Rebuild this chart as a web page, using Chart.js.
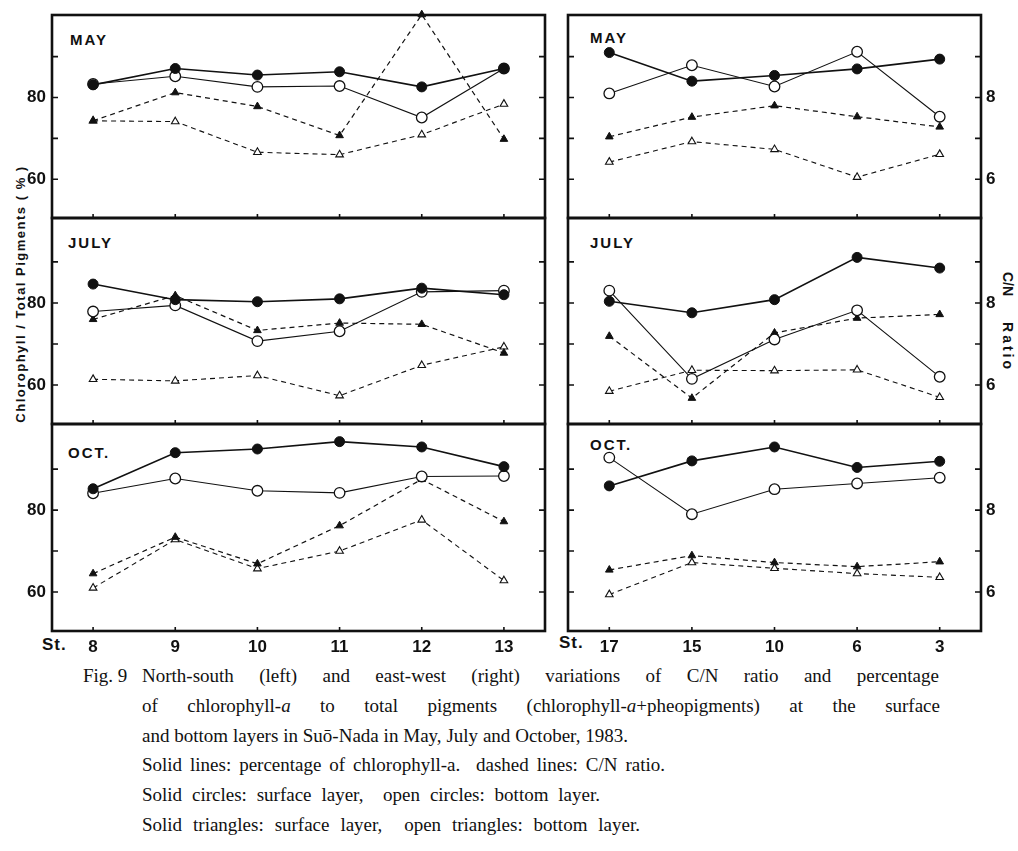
<!DOCTYPE html>
<html>
<head>
<meta charset="utf-8">
<script src="https://cdn.jsdelivr.net/npm/chart.js@4.4.1/dist/chart.umd.min.js"></script>
<style>
  html, body { margin: 0; padding: 0; background: #fff; }
  #page { position: relative; width: 1018px; height: 851px; overflow: hidden; }
  #page canvas { position: absolute; }
  .lbl {
    position: absolute;
    font-family: 'Liberation Sans', Arial, sans-serif;
    font-weight: bold;
    color: #111;
    white-space: nowrap;
    transform: translateY(-50%);
  }
  .month { font-size: 15px; letter-spacing: 2px; }
  .st { font-family: 'Liberation Sans Narrow', 'Liberation Sans', sans-serif; font-size: 17px; letter-spacing: 1px; }
  .ytitle { font-size: 13px; letter-spacing: 1.5px; transform: translate(-50%, -50%) rotate(-90deg); }
  .cntitle { font-size: 14px; transform: translate(-50%, -50%) rotate(90deg); }
  .cntitle span.r { letter-spacing: 3px; margin-left: 26px; }
  #caption {
    position: absolute; left: 83px; top: 661px; width: 870px;
    font-family: 'Liberation Serif', 'Times New Roman', serif;
    font-size: 19px; line-height: 29.8px; color: #111;
  }
  #caption .figno { position: absolute; left: 0; top: 0; white-space: nowrap; }
  #caption .body { position: absolute; left: 59px; top: 0; width: 797px; }
  #caption .body div { white-space: nowrap; text-align: justify; text-align-last: justify; }
</style>
</head>
<body>
<div id="page">
  <div class="lbl month" style="left:70px;top:39px">MAY</div>
  <div class="lbl month" style="left:68px;top:242px">JULY</div>
  <div class="lbl month" style="left:68px;top:452px">OCT.</div>
  <div class="lbl month" style="left:590px;top:37px">MAY</div>
  <div class="lbl month" style="left:590px;top:242px">JULY</div>
  <div class="lbl month" style="left:590px;top:444px">OCT.</div>

  <div class="lbl st" style="left:42px;top:645px">St.</div>
  <div class="lbl st" style="left:559px;top:643px">St.</div>

  <div class="lbl ytitle" style="left:20px;top:294px">Chlorophyll / Total Pigments ( % )</div>
  <div class="lbl cntitle" style="left:1008px;top:322px"><span>C/N</span><span class="r">Ratio</span></div>

  <div id="caption">
    <div class="figno">Fig. 9</div>
    <div class="body">
      <div style="width:797px">North-south (left) and east-west (right) variations of C/N ratio and percentage</div>
      <div style="width:798px">of chlorophyll-<i>a</i> to total pigments (chlorophyll-<i>a</i>+pheopigments) at the surface</div>
      <div style="width:486px">and bottom layers in Suō-Nada in May, July and October, 1983.</div>
      <div style="width:523px">Solid lines: percentage of chlorophyll-a.&nbsp; dashed lines: C/N ratio.</div>
      <div style="width:458px">Solid circles: surface layer,&nbsp; open circles: bottom layer.</div>
      <div style="width:498px">Solid triangles: surface layer,&nbsp; open triangles: bottom layer.</div>
    </div>
  </div>
</div>

<script>
// Stations along each transect
const stationsNS = ['8', '9', '10', '11', '12', '13'];
const stationsEW = ['17', '15', '10', '6', '3'];

// Tick values (percentage axis on the left, C/N axis on the right)
const pctTicks = [60, 70, 80, 90];
const pctTickLabels = [60, 80];
const cnTicks = [6, 7, 8, 9];
const cnTickLabels = [6, 8];

// North-south transect, one row per month: May, July, October
// % chlorophyll-a of total pigments
const nsChlSurface = [
  [83.1, 87.1, 85.5, 86.3, 82.6, 87.1],
  [84.6, 80.8, 80.3, 81.0, 83.6, 82.0],
  [85.2, 94.0, 94.9, 96.7, 95.4, 90.6],
];
const nsChlBottom = [
  [83.3, 85.2, 82.6, 82.8, 75.1, 87.1],
  [77.9, 79.4, 70.7, 73.1, 82.7, 83.0],
  [84.1, 87.7, 84.7, 84.2, 88.2, 88.3],
];
// C/N ratio
const nsCnSurface = [
  [7.43, 8.12, 7.78, 7.07, 10.03, 6.98],
  [7.60, 8.18, 7.33, 7.51, 7.48, 6.78],
  [6.45, 7.34, 6.69, 7.62, 8.75, 7.72],
];
const nsCnBottom = [
  [7.43, 7.41, 6.66, 6.60, 7.09, 7.84],
  [6.14, 6.10, 6.23, 5.74, 6.48, 6.93],
  [6.10, 7.28, 6.57, 7.00, 7.76, 6.28],
];

// East-west transect, May, July, October
const ewChlSurface = [
  [91.0, 84.0, 85.4, 87.0, 89.4],
  [80.4, 77.6, 80.8, 91.1, 88.5],
  [85.9, 92.0, 95.4, 90.4, 91.9],
];
const ewChlBottom = [
  [81.0, 87.9, 82.7, 91.2, 75.3],
  [83.0, 61.5, 71.1, 78.2, 62.0],
  [92.8, 79.0, 85.1, 86.5, 87.9],
];
const ewCnSurface = [
  [7.04, 7.52, 7.80, 7.53, 7.28],
  [7.19, 5.68, 7.27, 7.63, 7.72],
  [6.54, 6.89, 6.72, 6.62, 6.74],
];
const ewCnBottom = [
  [6.42, 6.92, 6.73, 6.05, 6.61],
  [5.85, 6.36, 6.35, 6.37, 5.70],
  [5.94, 6.72, 6.58, 6.45, 6.36],
];

const INK = '#111';
const PAPER = '#fff';
const TICK_FONT = { family: "'Liberation Sans Narrow', 'Liberation Sans', sans-serif", size: 17, weight: 'bold' };
const DASH = [5, 4];

// Canvas placement for each row (chart area ends up on the panel frame)
const rowLayout = [
  { top: 0, height: 222, padTop: 15, padBottom: 4, yMax: 100.2 },
  { top: 214, height: 214, padTop: 4, padBottom: 4, yMax: 100.7 },
  { top: 420, height: 240, padTop: 4, padBottom: 0, yMax: 101.0 },
];
const Y_MIN = 50.5;

/**
 * Panel frame with inward tick marks
 */
const panelFramePlugin = {
  id: 'panelFrame',
  afterDatasetsDraw(chart) {
    const ctx = chart.ctx;
    const a = chart.chartArea;
    const yScale = chart.scales.pct;
    const xScale = chart.scales.x;

    ctx.save();
    ctx.strokeStyle = INK;
    ctx.lineWidth = 1.6;
    ctx.beginPath();
    pctTicks.forEach((v) => {
      const py = yScale.getPixelForValue(v);
      ctx.moveTo(a.left, py);
      ctx.lineTo(a.left + 6, py);
      ctx.moveTo(a.right, py);
      ctx.lineTo(a.right - 6, py);
    });
    xScale.getLabels().forEach((_, i) => {
      const px = xScale.getPixelForValue(i);
      ctx.moveTo(px, a.bottom);
      ctx.lineTo(px, a.bottom - 4);
    });
    ctx.stroke();

    ctx.lineWidth = 2.6;
    ctx.strokeRect(a.left, a.top, a.right - a.left, a.bottom - a.top);
    ctx.restore();
  },
};

Chart.register(panelFramePlugin);

// Fix an axis to a set size and drop the label overflow padding
function fixSize(axis, size) {
  if (axis.isHorizontal()) axis.height = size;
  else axis.width = size;
  axis.paddingTop = 0;
  axis.paddingBottom = 0;
  axis.paddingLeft = 0;
  axis.paddingRight = 0;
}

function lineSet(data, axis, opts) {
  return Object.assign({
    data,
    yAxisID: axis,
    borderColor: INK,
    pointBorderColor: INK,
    fill: false,
    tension: 0,
    clip: false,
  }, opts);
}

/**
 * One panel: two % series (solid) and two C/N series (dashed)
 */
function createPanel(side, row) {
  const isLeft = side === 'left';
  const layout = rowLayout[row];
  const isBottom = row === rowLayout.length - 1;

  const canvas = document.createElement('canvas');
  const left = isLeft ? 0 : 562;
  const width = isLeft ? 550 : 456;
  canvas.width = width;
  canvas.height = layout.height;
  canvas.style.left = left + 'px';
  canvas.style.top = layout.top + 'px';
  document.getElementById('page').appendChild(canvas);

  const labels = isLeft ? stationsNS : stationsEW;
  const chlS = (isLeft ? nsChlSurface : ewChlSurface)[row];
  const chlB = (isLeft ? nsChlBottom : ewChlBottom)[row];
  const cnS = (isLeft ? nsCnSurface : ewCnSurface)[row];
  const cnB = (isLeft ? nsCnBottom : ewCnBottom)[row];

  return new Chart(canvas, {
    type: 'line',
    data: {
      labels,
      datasets: [
        lineSet(chlS, 'pct', {
          borderWidth: 1.6,
          pointStyle: 'circle',
          pointRadius: 5,
          pointBackgroundColor: INK,
          pointBorderWidth: 1,
          order: 1,
        }),
        lineSet(chlB, 'pct', {
          borderWidth: 1.1,
          pointStyle: 'circle',
          pointRadius: 5.3,
          pointBackgroundColor: PAPER,
          pointBorderWidth: 1.3,
          order: 2,
        }),
        lineSet(cnS, 'cn', {
          borderWidth: 1.2,
          borderDash: DASH,
          pointStyle: 'triangle',
          pointRadius: 4.4,
          pointBackgroundColor: INK,
          pointBorderWidth: 1,
          order: 3,
        }),
        lineSet(cnB, 'cn', {
          borderWidth: 1.1,
          borderDash: DASH,
          pointStyle: 'triangle',
          pointRadius: 4.4,
          pointBackgroundColor: PAPER,
          pointBorderWidth: 1.1,
          order: 4,
        }),
      ],
    },
    options: {
      responsive: false,
      animation: false,
      events: [],
      layout: {
        autoPadding: false,
        padding: {
          top: layout.padTop,
          bottom: layout.padBottom,
          left: isLeft ? 0 : 6,
          right: isLeft ? 5 : 0,
        },
      },
      plugins: {
        legend: { display: false },
        tooltip: { enabled: false },
      },
      scales: {
        x: {
          type: 'category',
          offset: true,
          display: isBottom,
          grid: { display: false, drawTicks: false },
          border: { display: false },
          ticks: {
            color: INK,
            font: TICK_FONT,
            padding: 6,
            autoSkip: false,
            maxRotation: 0,
          },
          afterFit: (axis) => fixSize(axis, isBottom ? 29 : 0),
        },
        pct: {
          type: 'linear',
          position: 'left',
          display: isLeft,
          min: Y_MIN,
          max: layout.yMax,
          grid: { display: false, drawTicks: false },
          border: { display: false },
          afterBuildTicks: (axis) => { axis.ticks = pctTicks.map((v) => ({ value: v })); },
          afterFit: (axis) => fixSize(axis, isLeft ? 52 : 0),
          ticks: {
            color: INK,
            font: TICK_FONT,
            padding: 6,
            autoSkip: false,
            callback: (v) => (pctTickLabels.includes(v) ? String(v) : ''),
          },
        },
        cn: {
          type: 'linear',
          position: 'right',
          display: !isLeft,
          min: Y_MIN / 10,
          max: layout.yMax / 10,
          grid: { display: false, drawTicks: false },
          border: { display: false },
          afterBuildTicks: (axis) => { axis.ticks = cnTicks.map((v) => ({ value: v })); },
          afterFit: (axis) => fixSize(axis, isLeft ? 0 : 37),
          ticks: {
            color: INK,
            font: TICK_FONT,
            padding: 5,
            autoSkip: false,
            callback: (v) => (cnTickLabels.includes(v) ? String(v) : ''),
          },
        },
      },
    },
  });
}

for (let row = 0; row < rowLayout.length; row++) {
  createPanel('left', row);
  createPanel('right', row);
}
</script>
</body>
</html>
